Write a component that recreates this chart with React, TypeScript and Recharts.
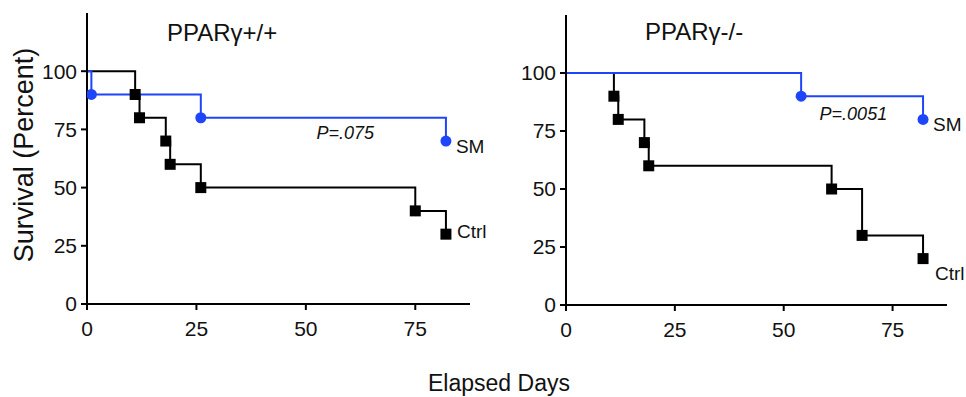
import * as React from "react"
import {
    LineChart,
    Line,
    XAxis,
    YAxis,
    ReferenceDot,
    LabelList
} from 'recharts';

// survival curves (day, percent surviving)
const leftCtrlDays = [0, 11, 12, 18, 19, 26, 75, 82];
const leftCtrlSurvival = [100, 90, 80, 70, 60, 50, 40, 30];
const leftSmDays = [0, 1, 26, 82];
const leftSmSurvival = [100, 90, 80, 70];

const rightCtrlDays = [0, 11, 12, 18, 19, 61, 68, 82];
const rightCtrlSurvival = [100, 90, 80, 70, 60, 50, 30, 20];
const rightSmDays = [0, 54, 82];
const rightSmSurvival = [100, 90, 80];

const xTicks = [0, 25, 50, 75];
const yTicks = [0, 25, 50, 75, 100];

const titles = ['PPAR\u03b3+/+', 'PPAR\u03b3-/-'];
const pValues = ['P=.075', 'P=.0051'];
const pValueSpots = [[59, 73.5], [66, 82.5]];
const seriesNames = ['SM', 'Ctrl'];

const FONT = '"Liberation Sans", Arial, Helvetica, sans-serif';
const BLUE = '#1f45fa';
const INK = '#111';

const toRows = (days: number[], surv: number[]) =>
    days.map((d, i) => ({ day: d, value: surv[i] }));

const squareDot = (props: any) => {
    const { cx, cy, index } = props;
    if (index === 0 || cx == null) return <g key={`sq-${index}`} />;
    return <rect key={`sq-${index}`} x={cx - 5.5} y={cy - 5.5} width={11} height={11} fill="#000" />;
};

const circleDot = (props: any) => {
    const { cx, cy, index } = props;
    if (index === 0 || cx == null) return <g key={`ci-${index}`} />;
    return <circle key={`ci-${index}`} cx={cx} cy={cy} r={5.5} fill={BLUE} />;
};

const endLabel = (text: string, last: number, dx: number, dy: number) => (props: any) => {
    const { x, y, index } = props;
    if (index !== last) return null;
    return (
        <text x={x + dx} y={y + dy} fontSize={19} fontFamily={FONT} fill={INK}>{text}</text>
    );
};

interface PanelProps {
    ctrl: { day: number, value: number }[]
    sm: { day: number, value: number }[]
    pValue: string
    pSpot: number[]
    smOffset: number[]
    ctrlOffset: number[]
    yWidth: number
    top: number
    width: number
    right: number
    height: number
}

function SurvivalPanel({ ctrl, sm, pValue, pSpot, smOffset, ctrlOffset, yWidth, top, width, right, height }: PanelProps) {
    const tickStyle = { fontSize: 21, fontFamily: FONT, fill: INK };
    return (
        <LineChart width={width} height={height} margin={{ top, right, bottom: 0, left: 0 }}>
            <XAxis
                type="number"
                dataKey="day"
                domain={[0, 87.5]}
                ticks={xTicks}
                allowDataOverflow
                height={36}
                tick={tickStyle}
                tickSize={6}
                tickMargin={11}
                axisLine={{ stroke: '#000', strokeWidth: 2 }}
                tickLine={{ stroke: '#000', strokeWidth: 2 }}
            />
            <YAxis
                type="number"
                domain={[0, 125]}
                ticks={yTicks}
                width={yWidth}
                tick={tickStyle}
                tickSize={6}
                tickMargin={4}
                axisLine={{ stroke: '#000', strokeWidth: 2 }}
                tickLine={{ stroke: '#000', strokeWidth: 2 }}
            />
            <Line
                data={ctrl}
                dataKey="value"
                type="stepAfter"
                stroke="#000"
                strokeWidth={2}
                dot={squareDot}
                activeDot={false}
                isAnimationActive={false}
            >
                <LabelList dataKey="value" content={endLabel(seriesNames[1], ctrl.length - 1, ctrlOffset[0], ctrlOffset[1])} />
            </Line>
            <Line
                data={sm}
                dataKey="value"
                type="stepAfter"
                stroke={BLUE}
                strokeWidth={2}
                dot={circleDot}
                activeDot={false}
                isAnimationActive={false}
            >
                <LabelList dataKey="value" content={endLabel(seriesNames[0], sm.length - 1, smOffset[0], smOffset[1])} />
            </Line>
            <ReferenceDot
                x={pSpot[0]}
                y={pSpot[1]}
                r={0}
                shape={(p: any) => (
                    <text x={p.cx} y={p.cy + 6} textAnchor="middle" fontSize={18} fontStyle="italic" fontFamily={FONT} fill={INK}>
                        {pValue}
                    </text>
                )}
            />
        </LineChart>
    );
}

export default function App() {
    return (
        <div style={{ position: 'absolute', left: 0, top: 0, width: 966, height: 397, background: '#fff', overflow: 'hidden' }}>
            <div style={{ position: 'absolute', left: 0, top: 0 }}>
                <SurvivalPanel
                    ctrl={toRows(leftCtrlDays, leftCtrlSurvival)}
                    sm={toRows(leftSmDays, leftSmSurvival)}
                    pValue={pValues[0]}
                    pSpot={pValueSpots[0]}
                    smOffset={[10, 12]}
                    ctrlOffset={[11, 4]}
                    yWidth={87}
                    top={13}
                    width={540}
                    right={70}
                    height={340}
                />
            </div>
            <div style={{ position: 'absolute', left: 483, top: 0 }}>
                <SurvivalPanel
                    ctrl={toRows(rightCtrlDays, rightCtrlSurvival)}
                    sm={toRows(rightSmDays, rightSmSurvival)}
                    pValue={pValues[1]}
                    pSpot={pValueSpots[1]}
                    smOffset={[10, 12]}
                    ctrlOffset={[12, 21]}
                    yWidth={83}
                    top={15}
                    width={483}
                    right={19}
                    height={341}
                />
            </div>
            <svg width={966} height={397} style={{ position: 'absolute', left: 0, top: 0, pointerEvents: 'none' }}>
                <text x={33} y={155} transform="rotate(-90 33 155)" textAnchor="middle" fontSize={27} fontFamily={FONT} fill={INK}>
                    Survival (Percent)
                </text>
                <text x={499} y={391} textAnchor="middle" fontSize={23} fontFamily={FONT} fill={INK}>
                    Elapsed Days
                </text>
                <text x={167} y={41} fontSize={24} fontFamily={FONT} fill={INK}>{titles[0]}</text>
                <text x={645} y={40} fontSize={24} fontFamily={FONT} fill={INK}>{titles[1]}</text>
            </svg>
        </div>
    );
}
